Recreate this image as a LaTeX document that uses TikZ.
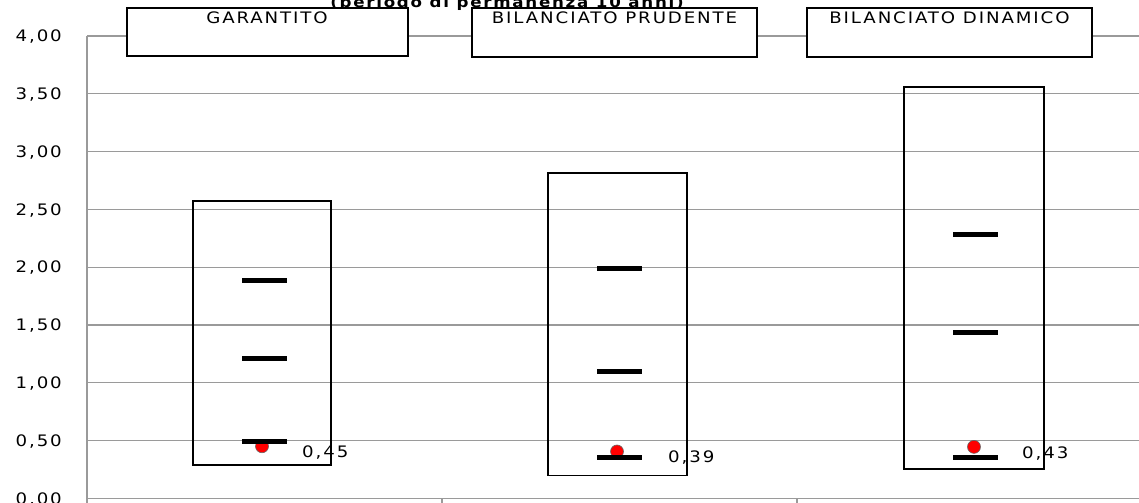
\documentclass[tikz,border=0pt]{standalone}
\usepackage{fontspec}
\newfontfamily\chartfont[FakeStretch=1.15,LetterSpace=12]{DejaVu Sans}

\definecolor{gridgray}{HTML}{9A9A9A}
\definecolor{dotred}{HTML}{FF0000}

\tikzset{
  grid line/.style={draw=gridgray, line width=1.2pt},
  range box/.style={draw=black, line width=1.6pt},
  legend box/.style={draw=black, fill=white, line width=1.6pt},
  bar mark/.style={draw=black, line width=5pt},
  mean dot/.style={fill=dotred, draw=black!60, line width=0.6pt},
  axis label/.style={font=\chartfont\fontsize{15.8}{18}\selectfont, anchor=base east, inner sep=0pt, yshift=-5.7pt},
  legend label/.style={font=\chartfont\fontsize{15.8}{18}\selectfont, anchor=base, inner sep=0pt},
  value label/.style={font=\chartfont\fontsize{15.8}{18}\selectfont, anchor=base west, inner sep=0pt},
  title label/.style={font=\chartfont\bfseries\fontsize{14.5}{17}\selectfont, anchor=base, inner sep=0pt}
}

\begin{document}
\begin{tikzpicture}[x=1pt, y=115.6pt]
  \useasboundingbox (0,-0.032) rectangle (1139,4.3106);

  % title, cut by the top edge
  \node [title label] (title) at (507,4.2457) {(periodo di permanenza 10 anni)};

  % grid and value axis
  \foreach \v/\t [count=\i] in {0.5/{0,50},1/{1,00},1.5/{1,50},2/{2,00},2.5/{2,50},3/{3,00},3.5/{3,50},4/{4,00}} {
    \draw [grid line] (87,\v) -- (1145,\v);
    \node [axis label] (ylab\i) at (62,\v) {\t};
  }
  \node [axis label] (ylab0) at (62,0) {0,00};
  \draw [grid line] (87,4) -- (87,-0.04);
  \draw [grid line] (87,0) -- (1145,0);
  \draw [grid line] (442,0) -- (442,-0.04);
  \draw [grid line] (797,0) -- (797,-0.04);

  % legend boxes
  \draw [legend box] (127,3.828) rectangle (408,4.241);
  \node [legend label] (garantito) at (267,4.1055) {GARANTITO};
  \draw [legend box] (472,3.820) rectangle (757,4.241);
  \node [legend label] (prudente) at (614.5,4.1055) {BILANCIATO PRUDENTE};
  \draw [legend box] (807,3.820) rectangle (1092,4.241);
  \node [legend label] (dinamico) at (949.5,4.1055) {BILANCIATO DINAMICO};

  % garantito
  \draw [range box] (193,0.288) rectangle (331,2.57);
  \fill [mean dot] (262,0.45) circle [radius=6.5pt];
  \draw [bar mark] (242,1.88) -- (287,1.88);
  \draw [bar mark] (242,1.21) -- (287,1.21);
  \draw [bar mark] (242,0.49) -- (287,0.49);
  \node [value label] (val1) at (302,0.354) {0,45};

  % bilanciato prudente
  \draw [range box] (548,0.199) rectangle (687,2.816);
  \fill [mean dot] (617,0.405) circle [radius=6.5pt];
  \draw [bar mark] (597,1.99) -- (642,1.99);
  \draw [bar mark] (597,1.10) -- (642,1.10);
  \draw [bar mark] (597,0.354) -- (642,0.354);
  \node [value label] (val2) at (668,0.308) {0,39};

  % bilanciato dinamico
  \draw [range box] (904,0.256) rectangle (1044,3.56);
  \fill [mean dot] (974,0.445) circle [radius=6.5pt];
  \draw [bar mark] (953,2.28) -- (998,2.28);
  \draw [bar mark] (953,1.43) -- (998,1.43);
  \draw [bar mark] (953,0.354) -- (998,0.354);
  \node [value label] (val3) at (1022,0.3426) {0,43};
\end{tikzpicture}
\end{document}
